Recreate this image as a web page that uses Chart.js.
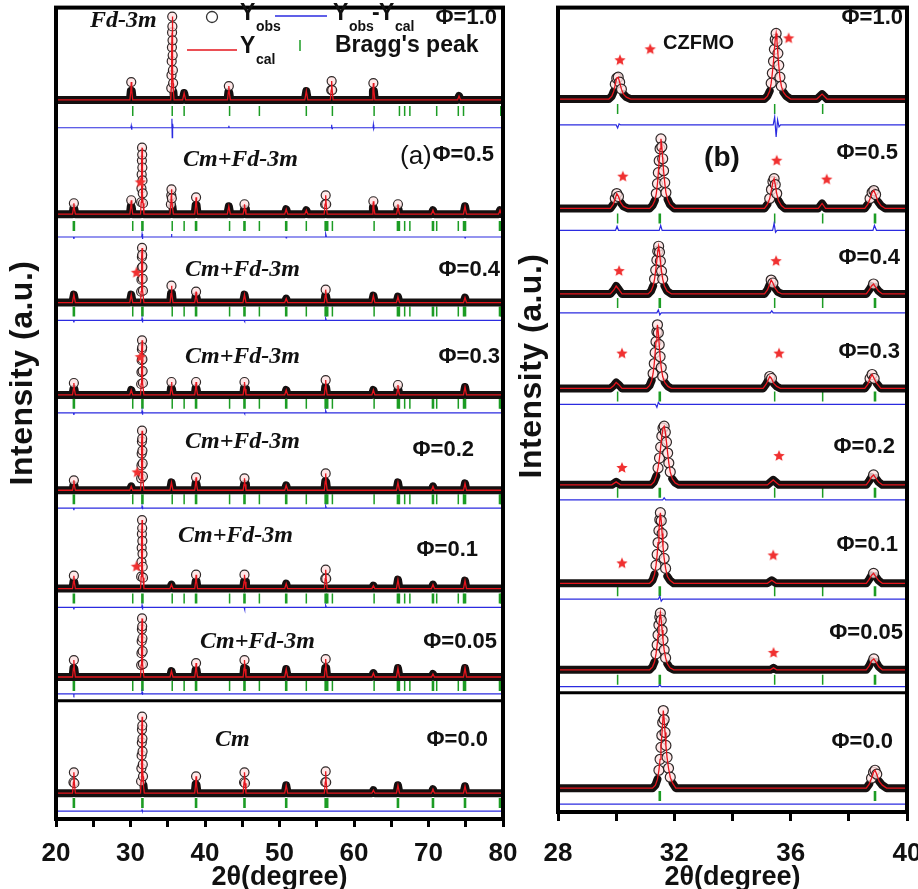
<!DOCTYPE html>
<html>
<head>
<meta charset="utf-8">
<title>CZFMO XRD refinement</title>
<script src="https://cdn.jsdelivr.net/npm/chart.js@4.4.1/dist/chart.umd.min.js"></script>
<style>
  html, body { margin: 0; padding: 0; background: #fff; overflow: hidden; }
  #wrap { position: relative; width: 918px; height: 889px; overflow: hidden; background: #fff; }
  canvas { position: absolute; top: 0; }
  #panelA { left: 0; }
  #panelB { left: 510px; }
</style>
</head>
<body>
<div id="wrap">
  <canvas id="panelA" width="523" height="889" style="width:523px;height:889px"></canvas>
  <canvas id="panelB" width="417" height="889" style="width:417px;height:889px"></canvas>
</div>
<script>
// ---- labels
const phiLabels = ['Φ=1.0', 'Φ=0.5', 'Φ=0.4', 'Φ=0.3', 'Φ=0.2', 'Φ=0.1', 'Φ=0.05', 'Φ=0.0'];
const phaseLabels = ['Fd-3m', 'Cm+Fd-3m', 'Cm+Fd-3m', 'Cm+Fd-3m', 'Cm+Fd-3m', 'Cm+Fd-3m', 'Cm+Fd-3m', 'Cm'];
const xTitle = '2θ(degree)';
const yTitle = 'Intensity (a.u.)';

// ---- axes
const rangeA = [20, 80];
const tickLabelsA = [20, 30, 40, 50, 60, 70, 80];
const rangeB = [28, 40];
const tickLabelsB = [28, 32, 36, 40];

// ---- vertical offsets of each pattern (a.u.), top pattern first
const baseA = [724, 609, 520, 427, 331, 232, 143, 26];
const braggBaseA = [713, 597, 511, 418, 322, 222, 134, 16];
const diffBaseA = [696, 586, 502, 409, 313, 213, 126, 8];
const sepA = 119;
const baseB = [717, 607, 521, 426, 329, 230, 143, 24];
const braggBaseB = [707, 597, 512, 418, 321, 222, 133, 16];
const diffBaseB = [691, 585, 502, 410, 314, 214, 126, 8];
const sepB = 120;

// which phases are refined in each pattern
const hasFd = [1, 1, 1, 1, 1, 1, 1, 0];
const hasCm = [0, 1, 1, 1, 1, 1, 1, 1];

// Bragg positions (2theta)
const fdTicksA = [30.3, 35.6, 37.2, 43.3, 47.3, 53.6, 57.1, 62.7, 66.1, 66.8, 67.5, 71.1, 74.0, 74.7, 79.7];
const cmTicksA = [22.4, 31.6, 38.8, 45.3, 50.9, 56.2, 56.4, 65.9, 70.6, 74.9, 79.6];
const fdTicksB = [30.05, 35.45, 37.1];
const cmTicksB = [31.5, 38.9];

// observed profiles, pairs of 2theta, intensity above own baseline
const obsA = [
  [20,0, 29.92,0, 30.04,9, 30.1,18, 30.17,9, 30.3,0,
   35.4,0, 35.47,12, 35.5,25, 35.53,39, 35.56,53, 35.58,68, 35.6,84, 35.62,74, 35.64,60, 35.66,45, 35.69,30, 35.72,17, 35.76,8, 35.85,0,
   37.0,0, 37.2,7, 37.4,0, 43.02,0, 43.14,8, 43.2,14, 43.27,7, 43.4,0, 53.4,0, 53.6,9, 53.8,0,
   56.82,0, 56.94,10, 57.0,19, 57.07,10, 57.2,0, 62.42,0, 62.54,9, 62.6,17, 62.67,9, 62.8,0, 73.9,0, 74.1,4, 74.3,0, 80,0],
  [20,0, 22.22,0, 22.34,6, 22.4,11, 22.47,5, 22.6,0, 29.92,0, 30.04,8, 30.1,14, 30.17,7, 30.3,0,
   31.35,0, 31.43,12, 31.47,26, 31.5,40, 31.53,54, 31.55,67, 31.57,60, 31.59,47, 31.61,34, 31.64,21, 31.68,11, 31.8,0,
   35.3,0, 35.42,10, 35.47,19, 35.5,25, 35.55,16, 35.62,8, 35.75,0, 38.62,0, 38.74,9, 38.8,17, 38.87,9, 39.0,0,
   43.0,0, 43.2,8, 43.4,0, 45.12,0, 45.24,5, 45.3,10, 45.37,5, 45.5,0, 50.7,0, 50.9,5, 51.1,0, 53.4,0, 53.6,4, 53.8,0,
   56.0,0, 56.12,10, 56.2,19, 56.27,10, 56.4,0, 62.42,0, 62.54,7, 62.6,13, 62.67,6, 62.8,0,
   65.72,0, 65.84,5, 65.9,10, 65.97,5, 66.1,0, 70.4,0, 70.6,4, 70.8,0, 74.7,0, 74.9,8, 75.1,0, 79.4,0, 79.6,4, 79.8,0, 80,0],
  [20,0, 22.2,0, 22.4,8, 22.6,0, 29.9,0, 30.1,8, 30.3,0,
   31.35,0, 31.43,11, 31.47,23, 31.5,35, 31.53,46, 31.55,55, 31.57,48, 31.6,36, 31.63,24, 31.67,12, 31.8,0,
   35.32,0, 35.44,9, 35.5,17, 35.57,9, 35.7,0, 38.62,0, 38.74,6, 38.8,11, 38.87,5, 39.0,0, 45.1,0, 45.3,8, 45.5,0,
   50.7,0, 50.9,4, 51.1,0, 56.02,0, 56.14,7, 56.2,13, 56.27,6, 56.4,0, 62.4,0, 62.6,7, 62.8,0,
   65.7,0, 65.9,6, 66.1,0, 74.7,0, 74.9,5, 75.1,0, 80,0],
  [20,0, 22.22,0, 22.34,6, 22.4,12, 22.47,6, 22.6,0, 29.9,0, 30.1,5, 30.3,0,
   31.35,0, 31.43,11, 31.47,23, 31.5,35, 31.53,46, 31.55,55, 31.57,48, 31.6,36, 31.63,24, 31.67,12, 31.8,0,
   35.32,0, 35.44,7, 35.5,13, 35.57,6, 35.7,0, 38.62,0, 38.74,7, 38.8,13, 38.87,6, 39.0,0,
   45.12,0, 45.24,7, 45.3,13, 45.37,6, 45.5,0, 50.7,0, 50.9,5, 51.1,0, 56.02,0, 56.14,8, 56.2,15, 56.27,7, 56.4,0,
   62.4,0, 62.6,5, 62.8,0, 65.72,0, 65.84,5, 65.9,10, 65.97,5, 66.1,0, 74.7,0, 74.9,8, 75.1,0, 80,0],
  [20,0, 22.22,0, 22.34,5, 22.4,10, 22.47,5, 22.6,0, 29.9,0, 30.1,4, 30.3,0,
   31.35,0, 31.43,12, 31.47,25, 31.5,37, 31.53,49, 31.55,60, 31.57,52, 31.6,40, 31.63,27, 31.67,14, 31.8,0,
   35.3,0, 35.5,8, 35.7,0, 38.62,0, 38.74,7, 38.8,13, 38.87,6, 39.0,0, 45.12,0, 45.24,6, 45.3,12, 45.37,6, 45.5,0,
   50.7,0, 50.9,5, 51.1,0, 56.02,0, 56.14,9, 56.2,17, 56.27,8, 56.4,0, 65.7,0, 65.9,8, 66.1,0,
   70.4,0, 70.6,4, 70.8,0, 74.7,0, 74.9,7, 75.1,0, 80,0],
  [20,0, 22.22,0, 22.34,7, 22.4,13, 22.47,6, 22.6,0,
   31.35,0, 31.43,12, 31.47,27, 31.5,41, 31.53,55, 31.55,69, 31.57,61, 31.59,48, 31.61,35, 31.64,22, 31.68,11, 31.8,0,
   35.3,0, 35.5,4, 35.7,0, 38.62,0, 38.74,7, 38.8,14, 38.87,7, 39.0,0, 45.12,0, 45.24,7, 45.3,14, 45.37,7, 45.5,0,
   50.7,0, 50.9,5, 51.1,0, 56.02,0, 56.14,10, 56.2,19, 56.27,10, 56.4,0, 62.4,0, 62.6,3, 62.8,0,
   65.7,0, 65.9,9, 66.1,0, 70.4,0, 70.6,4, 70.8,0, 74.7,0, 74.9,8, 75.1,0, 80,0],
  [20,0, 22.22,0, 22.34,9, 22.4,17, 22.47,8, 22.6,0,
   31.35,0, 31.43,12, 31.47,24, 31.5,36, 31.53,48, 31.55,59, 31.57,51, 31.6,39, 31.63,26, 31.67,13, 31.8,0,
   35.3,0, 35.5,6, 35.7,0, 38.62,0, 38.74,7, 38.8,14, 38.87,7, 39.0,0, 45.12,0, 45.24,9, 45.3,17, 45.37,8, 45.5,0,
   50.7,0, 50.9,8, 51.1,0, 56.02,0, 56.14,9, 56.2,18, 56.27,9, 56.4,0, 62.4,0, 62.6,4, 62.8,0,
   65.7,0, 65.9,9, 66.1,0, 70.4,0, 70.6,3, 70.8,0, 74.7,0, 74.9,9, 75.1,0, 80,0],
  [20,0, 22.22,0, 22.34,11, 22.4,21, 22.47,10, 22.6,0,
   31.35,0, 31.42,12, 31.46,25, 31.49,38, 31.52,51, 31.54,64, 31.56,77, 31.58,68, 31.6,55, 31.62,42, 31.65,29, 31.68,17, 31.74,8, 31.85,0,
   38.62,0, 38.74,9, 38.8,17, 38.87,8, 39.0,0, 45.12,0, 45.24,11, 45.3,21, 45.37,10, 45.5,0, 50.7,0, 50.9,8, 51.1,0,
   56.02,0, 56.14,11, 56.2,22, 56.27,11, 56.4,0, 62.4,0, 62.6,3, 62.8,0, 65.7,0, 65.9,8, 66.1,0,
   70.4,0, 70.6,4, 70.8,0, 74.7,0, 74.9,7, 75.1,0, 80,0]
];

const diffA = [
  [20,0, 30.05,0, 30.1,2, 30.15,-2, 30.2,0, 35.5,0, 35.56,9, 35.6,-10, 35.65,4, 35.72,0, 43.15,0, 43.2,2, 43.25,0,
   56.95,0, 57.0,3, 57.05,-1, 57.1,0, 62.55,0, 62.6,3, 62.65,-1, 62.7,0, 80,0],
  [20,0, 22.35,0, 22.4,-2, 22.45,0, 31.5,0, 31.55,3, 31.6,-2, 31.65,0, 35.45,0, 35.5,3, 35.55,0,
   50.85,0, 50.9,-1, 50.95,0, 56.15,0, 56.2,3, 56.3,0, 74.85,0, 74.9,-1, 74.95,0, 80,0],
  [20,0, 22.35,0, 22.4,-2, 22.45,0, 31.5,0, 31.55,2, 31.6,-2, 31.65,0, 45.25,0, 45.3,-1, 45.35,0, 56.15,0, 56.2,2, 56.3,0, 80,0],
  [20,0, 22.35,0, 22.4,-2, 22.45,0, 31.5,0, 31.55,2, 31.6,-2, 31.65,0, 45.25,0, 45.3,-1, 45.35,0, 56.15,0, 56.2,2, 56.3,0, 80,0],
  [20,0, 22.35,0, 22.4,-2, 22.45,0, 31.5,0, 31.55,2, 31.6,-1, 31.65,0, 56.15,0, 56.2,2, 56.3,0, 80,0],
  [20,0, 22.35,0, 22.4,-2, 22.45,0, 31.5,0, 31.55,2, 31.6,-2, 31.65,0, 45.25,0, 45.3,-2, 45.35,0, 56.15,0, 56.2,2, 56.3,0, 80,0],
  [20,0, 22.35,0, 22.4,-1, 22.45,0, 31.5,0, 31.55,2, 31.6,-1, 31.65,0, 80,0],
  [20,0, 31.5,0, 31.55,1, 31.6,0, 80,0]
];

const obsB = [
  [28,0, 29.75,0, 29.85,3, 29.92,8, 29.97,15, 30.02,21, 30.07,22, 30.12,17, 30.18,10, 30.25,5, 30.35,2, 30.5,0,
   35.1,0, 35.2,3, 35.28,8, 35.33,16, 35.37,26, 35.41,38, 35.44,50, 35.47,60, 35.5,66, 35.53,58, 35.56,46, 35.59,34,
   35.63,22, 35.68,13, 35.75,7, 35.85,3, 36.0,0, 36.9,0, 37.08,5, 37.25,0, 40,0],
  [28,0, 29.8,0, 29.9,4, 29.97,10, 30.02,15, 30.08,12, 30.15,6, 30.25,2, 30.4,0,
   31.15,0, 31.25,3, 31.33,8, 31.38,15, 31.42,25, 31.45,36, 31.48,48, 31.51,60, 31.54,70, 31.57,62, 31.6,50, 31.63,38,
   31.67,26, 31.71,16, 31.77,9, 31.85,4, 32.0,0,
   35.1,0, 35.2,4, 35.28,10, 35.34,19, 35.39,27, 35.43,30, 35.47,24, 35.52,15, 35.58,8, 35.68,3, 35.8,0,
   36.95,0, 37.08,5, 37.2,0, 38.55,0, 38.65,4, 38.73,10, 38.8,16, 38.86,18, 38.92,14, 39.0,7, 39.1,3, 39.25,0, 40,0],
  [28,0, 29.8,0, 29.92,4, 30.0,8, 30.08,5, 30.2,0,
   31.1,0, 31.2,3, 31.27,8, 31.32,15, 31.36,24, 31.4,34, 31.43,43, 31.46,48, 31.49,42, 31.52,33, 31.56,23, 31.6,15,
   31.66,8, 31.75,3, 31.9,0,
   35.1,0, 35.2,4, 35.27,9, 35.33,14, 35.39,11, 35.46,6, 35.56,2, 35.7,0,
   38.6,0, 38.7,4, 38.78,8, 38.85,10, 38.92,7, 39.02,3, 39.15,0, 40,0],
  [28,0, 29.8,0, 29.92,3, 30.0,6, 30.08,4, 30.2,0,
   31.05,0, 31.15,3, 31.22,8, 31.27,15, 31.31,25, 31.34,36, 31.37,47, 31.4,57, 31.42,64, 31.45,56, 31.48,44, 31.51,32,
   31.55,21, 31.6,12, 31.67,6, 31.78,2, 31.9,0,
   35.05,0, 35.15,4, 35.22,8, 35.28,12, 35.34,10, 35.42,5, 35.52,2, 35.65,0,
   38.55,0, 38.65,4, 38.73,10, 38.8,14, 38.87,10, 38.96,5, 39.1,0, 40,0],
  [28,0, 29.85,0, 30.0,3, 30.15,0,
   31.2,0, 31.3,3, 31.38,9, 31.44,17, 31.49,27, 31.53,38, 31.57,49, 31.61,57, 31.65,59, 31.69,53, 31.73,43, 31.77,32,
   31.81,22, 31.86,13, 31.93,6, 32.03,2, 32.15,0,
   35.2,0, 35.4,5, 35.6,0, 38.6,0, 38.7,4, 38.78,8, 38.85,10, 38.92,7, 39.02,3, 39.15,0, 40,0],
  [28,0, 31.15,0, 31.25,3, 31.32,9, 31.37,18, 31.41,29, 31.44,41, 31.47,53, 31.5,64, 31.52,71, 31.55,63, 31.58,50,
   31.61,37, 31.65,25, 31.7,15, 31.76,7, 31.85,3, 31.98,0,
   35.2,0, 35.35,3, 35.5,0, 38.6,0, 38.7,4, 38.78,8, 38.85,10, 38.92,7, 39.02,3, 39.15,0, 40,0],
  [28,0, 31.15,0, 31.25,3, 31.32,8, 31.37,16, 31.41,25, 31.44,35, 31.47,45, 31.5,53, 31.52,57, 31.55,50, 31.58,40,
   31.61,30, 31.65,20, 31.7,12, 31.76,6, 31.85,2, 31.98,0,
   35.3,0, 35.41,2, 35.52,0, 38.6,0, 38.7,4, 38.78,9, 38.86,11, 38.93,8, 39.03,3, 39.15,0, 40,0],
  [28,0, 31.25,0, 31.35,3, 31.42,9, 31.47,18, 31.51,29, 31.54,41, 31.57,53, 31.6,66, 31.62,78, 31.65,69, 31.68,56,
   31.71,43, 31.75,31, 31.8,20, 31.86,11, 31.94,5, 32.05,0,
   38.6,0, 38.7,4, 38.78,10, 38.85,16, 38.9,18, 38.96,14, 39.04,7, 39.15,3, 39.3,0, 40,0]
];

const diffB = [
  [28,0, 30.0,0, 30.05,-3, 30.1,1, 30.15,0, 35.4,0, 35.45,8, 35.5,-12, 35.55,5, 35.6,-2, 35.65,0, 40,0],
  [28,0, 29.98,0, 30.03,4, 30.08,0, 31.48,0, 31.53,5, 31.58,0, 35.38,0, 35.43,7, 35.48,-2, 35.53,0, 38.83,0, 38.88,5, 38.95,0, 40,0],
  [28,0, 31.4,0, 31.45,3, 31.5,-2, 31.55,0, 35.3,0, 35.35,2, 35.4,0, 40,0],
  [28,0, 31.35,0, 31.4,-3, 31.45,2, 31.5,0, 40,0],
  [28,0, 31.6,0, 31.65,2, 31.7,0, 40,0],
  [28,0, 31.45,0, 31.5,3, 31.55,-2, 31.6,0, 40,0],
  [28,0, 31.45,0, 31.5,2, 31.55,0, 40,0],
  [28,0, 40,0]
];

// red asterisks: 2theta, height above baseline
const starsA = [[], [[31.33, 32]], [[30.8, 30]], [[31.33, 38]], [[30.9, 18]], [[30.8, 22]], [], []];
const starsB = [[[30.13, 39], [31.17, 50], [35.93, 61]], [[30.23, 32], [35.52, 48], [37.24, 29]],
  [[30.1, 23], [35.5, 33]], [[30.2, 35], [35.6, 35]], [[30.2, 17], [35.6, 29]], [[30.2, 20], [35.4, 28]],
  [[35.41, 17]], []];

// ---- styling
const SANS = '"Liberation Sans", Arial, sans-serif';
const NARROW = '"Liberation Sans Narrow", "Liberation Sans", Arial, sans-serif';
const SERIF = '"Liberation Serif", "Times New Roman", serif';
const THR = 10;
const RED = '#e5141c', BLUE = '#2b2be0', GREEN = '#1c9c24', STAR = '#f03030';

// small filled star used as point style
function starImage(color, r) {
  const c = document.createElement('canvas');
  c.width = c.height = 2 * r + 2;
  const g = c.getContext('2d');
  g.fillStyle = color;
  g.beginPath();
  for (let k = 0; k < 10; k++) {
    const a = -Math.PI / 2 + k * Math.PI / 5, rr = k % 2 ? r * 0.45 : r;
    g.lineTo(r + 1 + rr * Math.cos(a), r + 1 + rr * Math.sin(a));
  }
  g.closePath();
  g.fill();
  return c;
}
const STAR_IMG = starImage(STAR, 6);

function toPoints(flat, base) {
  const out = [];
  for (let i = 0; i < flat.length; i += 2) out.push({ x: flat[i], y: base + flat[i + 1], h: flat[i + 1] });
  return out;
}

function buildSets(p) {
  const sets = [];
  for (let i = 0; i < p.obs.length; i++) {
    const pts = toPoints(p.obs[i], p.base[i]);
    sets.push({ data: pts.map(d => ({ ...d })), borderColor: RED, borderWidth: 1.3, pointRadius: 0, order: 1 });
    sets.push({
      data: pts, borderColor: '#141010', borderWidth: 8, borderCapStyle: 'round', borderJoinStyle: 'round', order: 2,
      segment: { borderColor: c => (pts[c.p0DataIndex].h < THR && pts[c.p1DataIndex].h < THR) ? '#141010' : 'rgba(0,0,0,0)' },
      pointRadius: c => (c.raw && c.raw.h >= THR) ? p.r : 0,
      pointBackgroundColor: 'rgba(255,226,226,0.8)', pointBorderColor: 'rgba(25,20,20,0.9)', pointBorderWidth: 1.2
    });
    sets.push({ data: toPoints(p.diff[i], p.diffBase[i]), borderColor: BLUE, borderWidth: 1.2, pointRadius: 0, order: 3 });
    if (hasFd[i]) sets.push({
      data: p.fd.map(t => ({ x: t, y: p.braggBase[i] })), showLine: false, pointStyle: 'line', pointRotation: 90,
      pointRadius: 5, pointBorderColor: GREEN, pointBorderWidth: 1.5, order: 3
    });
    if (hasCm[i]) sets.push({
      data: p.cm.map(t => ({ x: t, y: p.braggBase[i] })), showLine: false, pointStyle: 'line', pointRotation: 90,
      pointRadius: 5, pointBorderColor: GREEN, pointBorderWidth: 2.6, order: 3
    });
    if (p.stars[i].length) sets.push({
      data: p.stars[i].map(s => ({ x: s[0], y: p.base[i] + s[1] })), showLine: false, pointStyle: STAR_IMG,
      pointRadius: 6, order: 0
    });
  }
  sets.push({ data: [{ x: p.range[0], y: p.sep }, { x: p.range[1], y: p.sep }], borderColor: '#000', borderWidth: 3, pointRadius: 0, order: 3 });
  return sets;
}

function makeOverlay(items, titleY) {
  return {
    id: 'overlay',
    afterDatasetsDraw(chart) {
      const ctx = chart.ctx, a = chart.chartArea;
      ctx.save();
      ctx.strokeStyle = '#000';
      ctx.lineWidth = 4;
      ctx.strokeRect(a.left, a.top, a.right - a.left, a.bottom - a.top);
      // x axis title, centred under the plot area
      ctx.font = 'bold 27px ' + SANS;
      ctx.fillStyle = '#111';
      ctx.textAlign = 'center';
      ctx.textBaseline = 'middle';
      ctx.fillText(xTitle, (a.left + a.right) / 2, titleY);
      items.forEach(it => {
        ctx.save();
        if (it.kind === 'line') {
          ctx.strokeStyle = it.color; ctx.lineWidth = it.w;
          ctx.beginPath(); ctx.moveTo(it.x1, it.y1); ctx.lineTo(it.x2, it.y2); ctx.stroke();
        } else if (it.kind === 'circle') {
          ctx.strokeStyle = '#333'; ctx.lineWidth = 1.3;
          ctx.beginPath(); ctx.arc(it.x, it.y, it.r, 0, Math.PI * 2); ctx.stroke();
        } else {
          ctx.font = it.font; ctx.fillStyle = it.color || '#111';
          ctx.textAlign = it.align || 'left'; ctx.textBaseline = 'middle';
          if (it.spacing) ctx.letterSpacing = it.spacing;
          ctx.translate(it.x, it.y);
          if (it.rot) ctx.rotate(it.rot);
          ctx.fillText(it.text, 0, 0);
        }
        ctx.restore();
      });
      ctx.restore();
    }
  };
}

function xAxis(range, step, labels, tickLen, lineHeight) {
  return {
    type: 'linear', min: range[0], max: range[1],
    ticks: {
      stepSize: step, autoSkip: false, maxRotation: 0, padding: 2, color: '#111',
      font: { family: NARROW, size: 26, weight: 'bold', lineHeight: lineHeight },
      callback: v => labels.includes(v) ? v : ''
    },
    grid: { drawOnChartArea: false, drawTicks: true, tickLength: tickLen, tickWidth: 3, tickColor: '#000' },
    border: { display: true, width: 4, color: '#000' }
  };
}

function makeChart(id, p, pad, yMax, items) {
  return new Chart(document.getElementById(id), {
    type: 'line',
    data: { datasets: buildSets(p) },
    options: {
      responsive: false, animation: false, events: [],
      elements: { line: { tension: 0 } },
      layout: { padding: pad },
      plugins: { legend: { display: false }, tooltip: { enabled: false } },
      scales: { x: xAxis(p.range, p.step, p.labels, p.tickLen, p.lineHeight), y: { display: false, min: 0, max: yMax } }
    },
    plugins: [makeOverlay(items, p.titleY)]
  });
}

// ---- text annotations
const PHI = 'bold 22px ' + SANS;
const PHASE = 'italic bold 24px ' + SERIF;
const YT = 'bold 32px ' + SANS;
const LEG = 'bold 23px ' + SANS;
const SUB = 'bold 14px ' + SANS;

const phasePosA = [[90, 21], [183, 160], [185, 270], [185, 357], [185, 442], [178, 536], [200, 642], [215, 740]];
const phiPosA = [[497, 18], [494, 155], [500, 270], [500, 357], [474, 450], [478, 550], [497, 642], [488, 740]];
const phiPosB = [[393, 18], [388, 153], [390, 258], [390, 352], [385, 447], [388, 545], [393, 633], [383, 742]];

const itemsA = [
  { text: yTitle, x: 23, y: 373, rot: -Math.PI / 2, align: 'center', font: YT, spacing: '0.5px' },
  { text: '(a)', x: 400, y: 157, font: '26px ' + SANS },
  { kind: 'circle', x: 212, y: 17, r: 5.5 },
  { text: 'Y', x: 240, y: 14, font: LEG }, { text: 'obs', x: 256, y: 27, font: SUB },
  { kind: 'line', x1: 275, y1: 16, x2: 327, y2: 16, color: BLUE, w: 1.5 },
  { text: 'Y', x: 333, y: 14, font: LEG }, { text: 'obs', x: 349, y: 27, font: SUB },
  { text: '-', x: 372, y: 14, font: LEG }, { text: 'Y', x: 379, y: 14, font: LEG }, { text: 'cal', x: 395, y: 27, font: SUB },
  { kind: 'line', x1: 187, y1: 50, x2: 237, y2: 50, color: RED, w: 1.5 },
  { text: 'Y', x: 240, y: 47, font: LEG }, { text: 'cal', x: 256, y: 60, font: SUB },
  { kind: 'line', x1: 300, y1: 40, x2: 300, y2: 51, color: GREEN, w: 1.5 },
  { text: "Bragg's peak", x: 335, y: 46, font: LEG }
];
phaseLabels.forEach((t, i) => itemsA.push({ text: t, x: phasePosA[i][0], y: phasePosA[i][1], font: PHASE }));
phiLabels.forEach((t, i) => itemsA.push({ text: t, x: phiPosA[i][0], y: phiPosA[i][1], font: PHI, align: 'right' }));

const itemsB = [
  { text: yTitle, x: 22, y: 366, rot: -Math.PI / 2, align: 'center', font: YT, spacing: '0.5px' },
  { text: 'CZFMO', x: 153, y: 43, font: 'bold 20px ' + SANS },
  { text: '(b)', x: 212, y: 158, font: 'bold 28px ' + SANS, align: 'center' }
];
phiLabels.forEach((t, i) => itemsB.push({ text: t, x: phiPosB[i][0], y: phiPosB[i][1], font: PHI, align: 'right' }));

makeChart('panelA', {
  obs: obsA, diff: diffA, base: baseA, braggBase: braggBaseA, diffBase: diffBaseA, sep: sepA,
  fd: fdTicksA, cm: cmTicksA, stars: starsA, range: rangeA, step: 5, labels: tickLabelsA, r: 4.5,
  tickLen: 8, lineHeight: 49 / 26, titleY: 878
}, { left: 56, right: 20, top: 4, bottom: 9 }, 817, itemsA);

makeChart('panelB', {
  obs: obsB, diff: diffB, base: baseB, braggBase: braggBaseB, diffBase: diffBaseB, sep: sepB,
  fd: fdTicksB, cm: cmTicksB, stars: starsB, range: rangeB, step: 2, labels: tickLabelsB, r: 5,
  tickLen: 9, lineHeight: 61 / 26, titleY: 878
}, { left: 48, right: 20, top: 5, bottom: 3 }, 809, itemsB);
</script>
</body>
</html>
